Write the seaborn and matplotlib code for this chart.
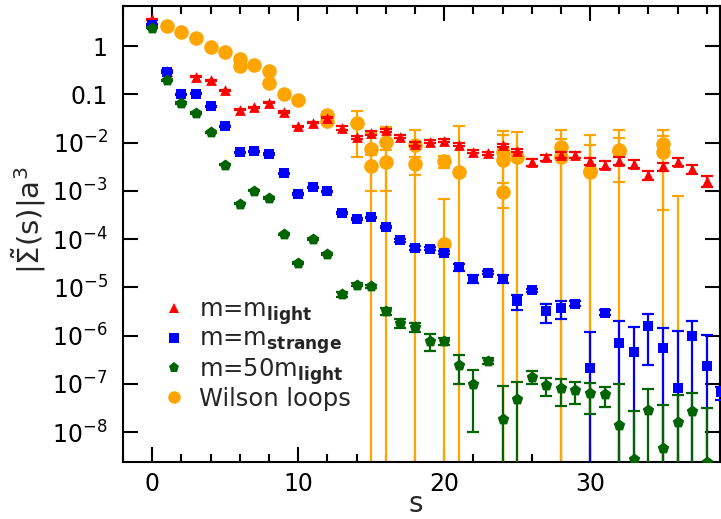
import numpy as np
import matplotlib
matplotlib.use("Agg")
import matplotlib.pyplot as plt
import seaborn as sns
from matplotlib.lines import Line2D
from matplotlib.ticker import FixedLocator, MultipleLocator, NullLocator, FuncFormatter

# m = m_light
red_s = [0, 1, 3, 4, 5, 6, 7, 8, 9, 10, 11, 12, 13, 14, 15, 16, 17, 18, 19, 20,
         21, 22, 23, 24, 25, 26, 27, 28, 29, 30, 31, 32, 33, 34, 35, 36, 37, 38]
red_v = [3.6, 0.31, 0.23, 0.196, 0.12, 0.048, 0.054, 0.067, 0.043, 0.0216,
         0.0257, 0.0327, 0.020, 0.0129, 0.0157, 0.0178, 0.0133, 0.0094, 0.0105, 0.011,
         0.0091, 0.0065, 0.0060, 0.0087, 0.0068, 0.0039, 0.0049, 0.0056, 0.0056, 0.0041,
         0.0035, 0.0042, 0.0036, 0.0021, 0.0032, 0.0040, 0.0028, 0.0016]
red_rel = [0.03, 0.03, 0.03, 0.03, 0.03, 0.03, 0.03, 0.03, 0.03, 0.03,
           0.03, 0.03, 0.08, 0.08, 0.08, 0.08, 0.08, 0.08, 0.08, 0.08,
           0.08, 0.08, 0.08, 0.08, 0.08, 0.15, 0.15, 0.15, 0.15, 0.18,
           0.18, 0.18, 0.18, 0.22, 0.2, 0.2, 0.22, 0.25]

# m = m_strange
blue_s = list(range(0, 40))
blue_v = [2.74, 0.29, 0.10, 0.103, 0.056, 0.0216, 0.0063, 0.0066, 0.0058, 0.0023,
          0.00086, 0.00118, 0.00097, 0.00035, 0.00026, 0.00028, 0.00018, 9.4e-5, 6.6e-5, 6.3e-5,
          5.2e-5, 2.6e-5, 1.5e-5, 2.0e-5, 1.5e-5, 5.1e-6, 8.6e-6, 3.2e-6, 3.7e-6, 4.6e-6,
          2.1e-7, 3.0e-6, 6.9e-7, 4.6e-7, 1.54e-6, 5.5e-7, 8.3e-8, 1.0e-6, 2.3e-7, 6.6e-8]
blue_err = [0.08, 0.009, 0.003, 0.003, 0.0017, 0.0006, 0.0002, 0.0002, 0.0002, 0.00007,
            0.00003, 0.00004, 0.00003, 0.000012, 0.000009, 0.00001, 0.000007, 7e-6, 6e-6, 5e-6,
            4e-6, 4.4e-6, 3e-6, 1.5e-6, 2.8e-6, 1.7e-6, 0.6e-6, 1.35e-6, 1.5e-6, 0.5e-6,
            9.6e-7, 0.35e-6, 1.3e-6, 1.05e-6, 1.3e-6, 8.5e-7, 1.17e-6, 1.02e-6, 8e-7, 2e-8]

# m = 50 m_light
green_s = list(range(0, 39))
green_v = [2.4, 0.196, 0.066, 0.041, 0.0164, 0.0035, 5.4e-4, 1.0e-3, 7.1e-4, 1.26e-4,
           3.2e-5, 1.0e-4, 4.9e-5, 7.2e-6, 1.14e-5, 1.05e-5, 3.2e-6, 1.8e-6, 1.5e-6, 7.8e-7,
           7.6e-7, 2.5e-7, 1.0e-7, 3.0e-7, 1.9e-8, 4.9e-8, 1.4e-7, 9.3e-8, 8e-8, 7.4e-8,
           6.3e-8, 6e-8, 1.4e-8, 2.8e-9, 2.8e-8, 4.6e-9, 1.6e-8, 2.7e-8, 2.4e-9]
green_err = [0.08, 0.006, 0.002, 0.0012, 0.0005, 0.0001, 1.6e-5, 3e-5, 2e-5, 4e-6,
             1.3e-6, 3e-6, 1.5e-6, 0.9e-6, 1.0e-6, 0.9e-6, 0.5e-6, 0.35e-6, 0.3e-6, 3.1e-7,
             1.2e-7, 1.5e-7, 9e-8, 4e-8, 7.3e-8, 6e-8, 4e-8, 3.6e-8, 4.5e-8, 3.5e-8,
             3.9e-8, 2.7e-8, 8.5e-8, 2.5e-8, 5e-8, 3.1e-8, 4.2e-8, 3.6e-8, 2.9e-8]

# Wilson loops
wl_s = [1, 2, 3, 4, 5, 6, 6, 7, 8, 8, 9, 10, 12, 12, 14, 15, 15, 16, 16, 18,
        18, 20, 20, 21, 24, 24, 24, 25, 28, 28, 30, 30, 32, 32, 35, 35, 36]
wl_v = [2.65, 1.93, 1.45, 0.97, 0.76, 0.55, 0.39, 0.41, 0.30, 0.17,
        0.10, 0.075, 0.037, 0.028, 0.025, 0.0075, 0.0032, 0.0102, 0.0040, 0.0090,
        0.0036, 0.0041, 8e-5, 0.0024, 0.0063, 0.0043, 0.00093, 0.0049, 0.0080, 0.0049,
        0.0024, 0.0026, 0.0068, 0.0070, 0.0094, 0.0063, 2e-10]
wl_err = [0.03, 0.03, 0.03, 0.03, 0.03, 0.02, 0.02, 0.02, 0.015, 0.01,
          0.006, 0.005, 0.006, 0.004, 0.02, 0.008, 0.0022, 0.011, 0.003, 0.0095,
          0.0015, 0.0012, 0.0006, 0.020, 0.011, 0.0098, 0.0005, 0.0115, 0.0098, 0.007,
          0.0117, 0.0061, 0.0115, 0.0055, 0.009, 0.0075, 0.00078]

sns.set_style("ticks")
plt.rcParams['font.family'] = ['DejaVu Sans']
plt.rcParams['mathtext.default'] = 'regular'

fig, ax = plt.subplots(figsize=(7.21, 5.19), dpi=100)
fig.subplots_adjust(left=0.1706, right=0.9986, top=0.9884, bottom=0.1098)
ax.set_yscale('log')


def draw(s, v, err, color, marker, size, z):
    s = np.asarray(s, float)
    v = np.asarray(v, float)
    err = np.asarray(err, float)
    lo = np.where(err >= v, v - 1e-13, err)
    ax.errorbar(s, v, yerr=[lo, err], fmt='none', ecolor=color, elinewidth=1.6,
                capsize=4.3, capthick=1.6, zorder=z)
    sns.scatterplot(x=s, y=v, color=color, marker=marker, s=size, linewidth=0,
                    ax=ax, zorder=z + 0.5, legend=False)


orange = '#ffa500'
draw(wl_s, wl_v, wl_err, orange, 'o', 110, 2)
draw(red_s, red_v, np.array(red_v) * np.array(red_rel), 'red', '^', 60, 3)
draw(blue_s, blue_v, blue_err, 'blue', 's', 45, 4)
draw(green_s, green_v, green_err, '#006400', 'p', 75, 5)

ax.set_xlim(-2, 38.9)
ax.set_ylim(2.39e-9, 6.75)

ax.xaxis.set_major_locator(FixedLocator([0, 10, 20, 30]))
ax.xaxis.set_minor_locator(MultipleLocator(2))
ydec = [1e-8, 1e-7, 1e-6, 1e-5, 1e-4, 1e-3, 1e-2, 0.1, 1]
ax.yaxis.set_major_locator(FixedLocator(ydec))
ax.yaxis.set_minor_locator(NullLocator())


def yfmt(v, pos):
    if v >= 0.99:
        return '1'
    if v >= 0.099:
        return '0.1'
    return r'$10^{%d}$' % int(round(np.log10(v)))


ax.yaxis.set_major_formatter(FuncFormatter(yfmt))
ax.tick_params(which='both', direction='in', top=True, right=True, width=1.5,
               labelsize=17, colors='black')
ax.tick_params(which='major', length=11)
ax.tick_params(which='minor', length=6)
ax.tick_params(axis='y', pad=11)
ax.tick_params(axis='x', pad=7)
for sp in ax.spines.values():
    sp.set_linewidth(1.5)
    sp.set_color('black')

ax.set_xlabel('s', fontsize=20)
ax.set_ylabel(r'$|\tilde{\Sigma}(s)|a^3$', fontsize=21)
ax.xaxis.set_label_coords(0.49, -0.062)
ax.yaxis.set_label_coords(-0.125, 0.53)

handles = [
    Line2D([], [], ls='none', marker='^', color='red', markersize=7, markeredgewidth=0),
    Line2D([], [], ls='none', marker='s', color='blue', markersize=6.5, markeredgewidth=0),
    Line2D([], [], ls='none', marker='p', color='#006400', markersize=8, markeredgewidth=0),
    Line2D([], [], ls='none', marker='o', color=orange, markersize=9, markeredgewidth=0),
]
labels = [r'm=m$_{\mathbf{light}}$', r'm=m$_{\mathbf{strange}}$',
          r'm=50m$_{\mathbf{light}}$', 'Wilson loops']
ax.legend(handles, labels, loc='lower left', bbox_to_anchor=(0.067, 0.112),
          frameon=False, fontsize=17.5, handlelength=0.9, handletextpad=0.6,
          labelspacing=0.0, borderpad=0, borderaxespad=0)

plt.savefig('out.png', dpi=100)
